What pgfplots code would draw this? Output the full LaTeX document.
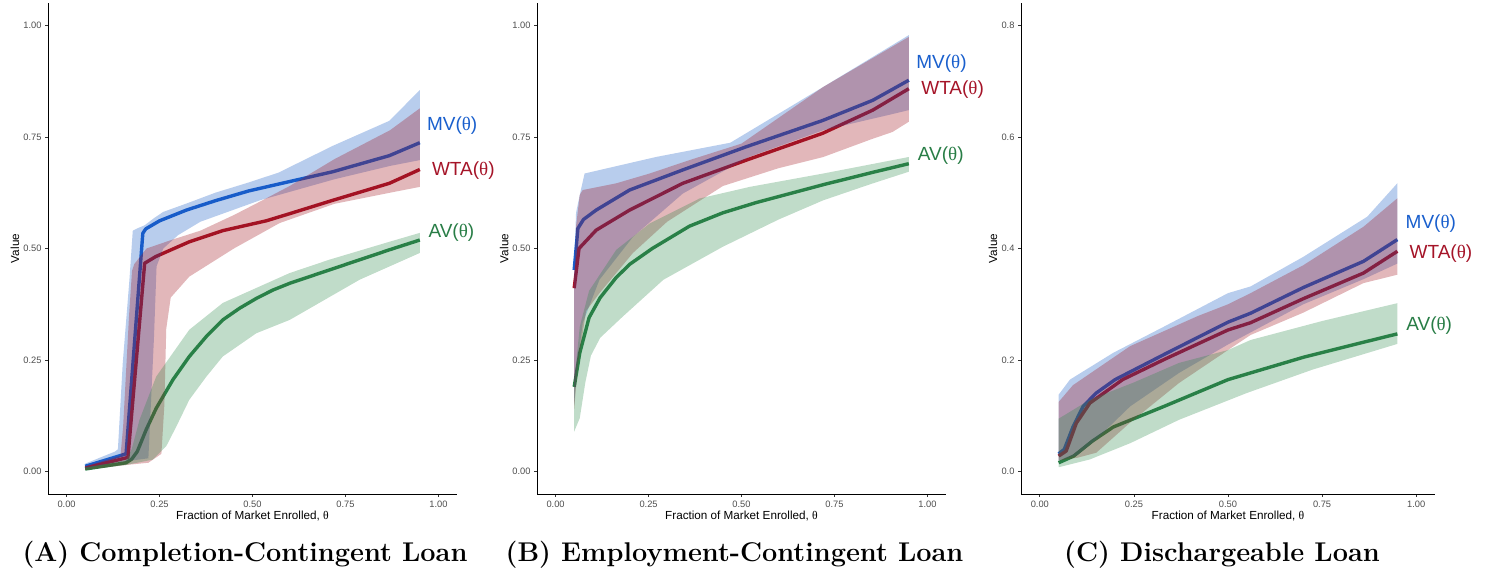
\documentclass[border=0pt]{standalone}
\usepackage{fontspec}
\usepackage{pgfplots}
\pgfplotsset{compat=1.18}
\newfontfamily\lsans{Liberation Sans}
\newfontfamily\lserif{Liberation Serif}
\newcommand{\thet}{{\lserif θ}}

\definecolor{mvcol}{RGB}{25,95,205}
\definecolor{wtacol}{RGB}{165,20,40}
\definecolor{avcol}{RGB}{40,125,70}
\definecolor{mvfill}{RGB}{20,88,195}
\definecolor{wtafill}{RGB}{160,15,25}
\definecolor{avfill}{RGB}{45,138,75}
\definecolor{ticktext}{RGB}{77,77,77}

\pgfplotsset{
  panel/.style={
    scale only axis, height=491pt,
    xmin=-0.05, xmax=1.05,
    axis lines=left, axis line style={-, line width=0.9pt, black},
    tick align=outside, major tick length=3pt,
    tick style={line width=0.8pt, black!80},
    xtick={0,0.25,0.5,0.75,1},
    tick label style={font=\lsans\fontsize{9.3}{11}\selectfont, text=ticktext,
      /pgf/number format/fixed, /pgf/number format/fixed zerofill,
      /pgf/number format/assume math mode=true},
    xticklabel style={/pgf/number format/precision=2},
    xlabel={Fraction of Market Enrolled, \thet},
    ylabel={Value},
    label style={font=\lsans\fontsize{11.7}{14}\selectfont},
    xlabel style={at={(axis description cs:0.5,-0.0448)}, anchor=center},
  },
  mvline/.style={mvcol, line width=3.4pt, line join=round},
  wtaline/.style={wtacol, line width=3.4pt, line join=round},
  avline/.style={avcol, line width=3.4pt, line join=round},
  mvband/.style={draw=none, fill=mvfill, fill opacity=0.3},
  wtaband/.style={draw=none, fill=wtafill, fill opacity=0.3},
  avband/.style={draw=none, fill=avfill, fill opacity=0.3},
}
\tikzset{lab/.style={anchor=west, inner sep=0pt, font=\lsans\fontsize{19}{22}\selectfont}}

\begin{document}
\begin{tikzpicture}
\path[use as bounding box] (0pt,0pt) rectangle (1485pt,572pt);

% (A) Completion-Contingent Loan
\begin{axis}[panel, at={(48pt,78pt)}, anchor=south west, width=409pt,
  ymin=-0.05, ymax=1.05, ytick={0,0.25,0.5,0.75,1},
  yticklabel style={/pgf/number format/precision=2},
  ylabel style={at={(axis description cs:-0.0807,0.5)}, anchor=center}]
\addplot[mvline] coordinates {(0.05,0.012) (0.16,0.040) (0.205,0.534) (0.213,0.544) (0.25,0.562) (0.322,0.586) (0.40,0.607) (0.49,0.629) (0.60,0.650) (0.716,0.672) (0.868,0.708) (0.95,0.737)};
\addplot[wtaline] coordinates {(0.05,0.008) (0.165,0.032) (0.21,0.467) (0.24,0.482) (0.33,0.515) (0.42,0.54) (0.537,0.562) (0.60,0.578) (0.716,0.608) (0.868,0.646) (0.95,0.677)};
\addplot[avline] coordinates {(0.05,0.006) (0.16,0.020) (0.175,0.028) (0.19,0.045) (0.214,0.094) (0.241,0.142) (0.286,0.206) (0.33,0.258) (0.376,0.303) (0.42,0.340) (0.465,0.366) (0.51,0.388) (0.555,0.407) (0.60,0.422) (0.707,0.452) (0.868,0.497) (0.95,0.519)};
\addplot[mvband] coordinates {(0.05,0.018) (0.13,0.045) (0.138,0.05) (0.151,0.243) (0.169,0.43) (0.178,0.54) (0.19,0.545) (0.21,0.552) (0.235,0.568) (0.26,0.582) (0.32,0.600) (0.40,0.625) (0.49,0.648) (0.57,0.670) (0.716,0.730) (0.868,0.786) (0.95,0.855)
  (0.95,0.698) (0.87,0.685) (0.72,0.655) (0.52,0.608) (0.36,0.56) (0.30,0.53) (0.26,0.50) (0.242,0.46) (0.235,0.30) (0.22,0.03) (0.13,0.02) (0.05,0.007)} -- cycle;
\addplot[wtaband] coordinates {(0.05,0.012) (0.145,0.036) (0.152,0.10) (0.168,0.35) (0.176,0.45) (0.182,0.465) (0.215,0.50) (0.285,0.52) (0.36,0.54) (0.45,0.575) (0.52,0.605) (0.60,0.640) (0.72,0.700) (0.87,0.765) (0.95,0.814)
  (0.95,0.638) (0.87,0.625) (0.72,0.60) (0.573,0.557) (0.45,0.50) (0.33,0.437) (0.28,0.39) (0.268,0.32) (0.263,0.15) (0.255,0.04) (0.22,0.02) (0.16,0.015) (0.05,0.004)} -- cycle;
\addplot[avband] coordinates {(0.05,0.008) (0.16,0.026) (0.175,0.05) (0.196,0.116) (0.241,0.213) (0.33,0.318) (0.42,0.378) (0.60,0.445) (0.707,0.475) (0.868,0.515) (0.95,0.535)
  (0.95,0.49) (0.788,0.43) (0.60,0.34) (0.51,0.31) (0.42,0.258) (0.376,0.213) (0.33,0.161) (0.295,0.101) (0.268,0.057) (0.232,0.027) (0.16,0.015) (0.05,0.004)} -- cycle;
\coordinate (mvA) at (axis cs:0.95,0.7745);
\coordinate (wtaA) at (axis cs:0.95,0.674);
\coordinate (avA) at (axis cs:0.95,0.536);
\end{axis}
\begin{scope}
\clip (0pt,0pt) rectangle (493pt,572pt);
\node[lab, text=mvcol, xshift=7pt] at (mvA) {MV(\thet)};
\node[lab, text=wtacol, xshift=12pt] at (wtaA) {WTA(\thet)};
\node[lab, text=avcol, xshift=8.5pt] at (avA) {AV(\thet)};
\end{scope}

% (B) Employment-Contingent Loan
\begin{axis}[panel, at={(537pt,78pt)}, anchor=south west, width=409pt,
  ymin=-0.05, ymax=1.05, ytick={0,0.25,0.5,0.75,1},
  yticklabel style={/pgf/number format/precision=2},
  ylabel style={at={(axis description cs:-0.08,0.5)}, anchor=center}]
\addplot[mvline] coordinates {(0.05,0.452) (0.06,0.545) (0.075,0.565) (0.109,0.586) (0.199,0.631) (0.342,0.676) (0.513,0.728) (0.719,0.787) (0.853,0.832) (0.95,0.877)};
\addplot[wtaline] coordinates {(0.05,0.411) (0.063,0.50) (0.109,0.541) (0.199,0.586) (0.342,0.646) (0.513,0.698) (0.718,0.758) (0.853,0.81) (0.95,0.858)};
\addplot[avline] coordinates {(0.05,0.19) (0.065,0.266) (0.09,0.345) (0.12,0.39) (0.163,0.435) (0.20,0.465) (0.26,0.50) (0.36,0.55) (0.45,0.58) (0.54,0.603) (0.72,0.643) (0.85,0.670) (0.95,0.69)};
\addplot[mvband] coordinates {(0.05,0.46) (0.055,0.58) (0.065,0.62) (0.078,0.668) (0.27,0.705) (0.47,0.737) (0.63,0.817) (0.72,0.862) (0.95,0.978)
  (0.95,0.81) (0.90,0.80) (0.72,0.765) (0.52,0.705) (0.342,0.623) (0.208,0.526) (0.118,0.43) (0.073,0.333) (0.06,0.25) (0.05,0.15)} -- cycle;
\addplot[wtaband] coordinates {(0.05,0.42) (0.055,0.55) (0.065,0.62) (0.073,0.631) (0.163,0.646) (0.253,0.668) (0.36,0.698) (0.50,0.735) (0.72,0.862) (0.95,0.974)
  (0.95,0.784) (0.906,0.761) (0.85,0.745) (0.72,0.705) (0.60,0.680) (0.45,0.640) (0.30,0.56) (0.208,0.49) (0.118,0.40) (0.082,0.36) (0.06,0.24) (0.05,0.14)} -- cycle;
\addplot[avband] coordinates {(0.05,0.20) (0.065,0.325) (0.09,0.405) (0.163,0.497) (0.253,0.556) (0.387,0.612) (0.522,0.638) (0.72,0.668) (0.95,0.705)
  (0.95,0.672) (0.85,0.645) (0.72,0.608) (0.60,0.565) (0.45,0.504) (0.29,0.43) (0.18,0.347) (0.12,0.30) (0.095,0.26) (0.08,0.2) (0.065,0.12) (0.05,0.09)} -- cycle;
\coordinate (mvB) at (axis cs:0.95,0.914);
\coordinate (wtaB) at (axis cs:0.95,0.855);
\coordinate (avB) at (axis cs:0.95,0.709);
\end{axis}
\begin{scope}
\clip (0pt,0pt) rectangle (982pt,572pt);
\node[lab, text=mvcol, xshift=7.3pt] at (mvB) {MV(\thet)};
\node[lab, text=wtacol, xshift=12.3pt] at (wtaB) {WTA(\thet)};
\node[lab, text=avcol, xshift=8.9pt] at (avB) {AV(\thet)};
\end{scope}

% (C) Dischargeable Loan
\begin{axis}[panel, at={(1021pt,78pt)}, anchor=south west, width=414pt,
  ymin=-0.04, ymax=0.84, ytick={0,0.2,0.4,0.6,0.8},
  yticklabel style={/pgf/number format/precision=1},
  ylabel style={at={(axis description cs:-0.068,0.5)}, anchor=center}]
\addplot[mvline] coordinates {(0.05,0.032) (0.065,0.04) (0.088,0.08) (0.115,0.117) (0.15,0.141) (0.20,0.165) (0.33,0.21) (0.50,0.268) (0.56,0.284) (0.70,0.33) (0.86,0.377) (0.95,0.416)};
\addplot[wtaline] coordinates {(0.05,0.028) (0.07,0.037) (0.097,0.087) (0.133,0.123) (0.22,0.165) (0.33,0.201) (0.50,0.254) (0.56,0.267) (0.70,0.31) (0.86,0.356) (0.95,0.395)};
\addplot[avline] coordinates {(0.05,0.016) (0.09,0.028) (0.14,0.055) (0.195,0.08) (0.33,0.117) (0.50,0.165) (0.70,0.205) (0.86,0.232) (0.95,0.247)};
\addplot[mvband] coordinates {(0.05,0.138) (0.08,0.165) (0.195,0.213) (0.33,0.26) (0.50,0.32) (0.56,0.332) (0.70,0.385) (0.87,0.457) (0.95,0.517)
  (0.95,0.373) (0.86,0.345) (0.70,0.30) (0.50,0.228) (0.37,0.177) (0.24,0.117) (0.15,0.058) (0.10,0.03) (0.05,0.02)} -- cycle;
\addplot[wtaband] coordinates {(0.05,0.125) (0.088,0.155) (0.24,0.225) (0.42,0.279) (0.50,0.30) (0.56,0.32) (0.70,0.37) (0.86,0.439) (0.95,0.49)
  (0.95,0.353) (0.86,0.338) (0.70,0.285) (0.56,0.245) (0.50,0.218) (0.37,0.159) (0.24,0.088) (0.15,0.034) (0.10,0.025) (0.05,0.02)} -- cycle;
\addplot[avband] coordinates {(0.05,0.095) (0.133,0.129) (0.25,0.16) (0.37,0.195) (0.50,0.218) (0.56,0.236) (0.75,0.27) (0.95,0.302)
  (0.95,0.229) (0.725,0.183) (0.55,0.141) (0.37,0.093) (0.24,0.051) (0.133,0.022) (0.05,0.008)} -- cycle;
\coordinate (mvC) at (axis cs:0.95,0.444);
\coordinate (wtaC) at (axis cs:0.95,0.390);
\coordinate (avC) at (axis cs:0.95,0.2616);
\end{axis}
\node[lab, text=mvcol, xshift=8.1pt] at (mvC) {MV(\thet)};
\node[lab, text=wtacol, xshift=12.1pt] at (wtaC) {WTA(\thet)};
\node[lab, text=avcol, xshift=8.8pt] at (avC) {AV(\thet)};

% captions
\begin{scope}[every node/.style={anchor=base, font=\bfseries\fontsize{27.1}{31}\selectfont}]
\node at (245pt,10.3pt) {(A) Completion-Contingent Loan};
\node at (734.5pt,10.3pt) {(B) Employment-Contingent Loan};
\node at (1222pt,10.3pt) {(C) Dischargeable Loan};
\end{scope}
\end{tikzpicture}
\end{document}
